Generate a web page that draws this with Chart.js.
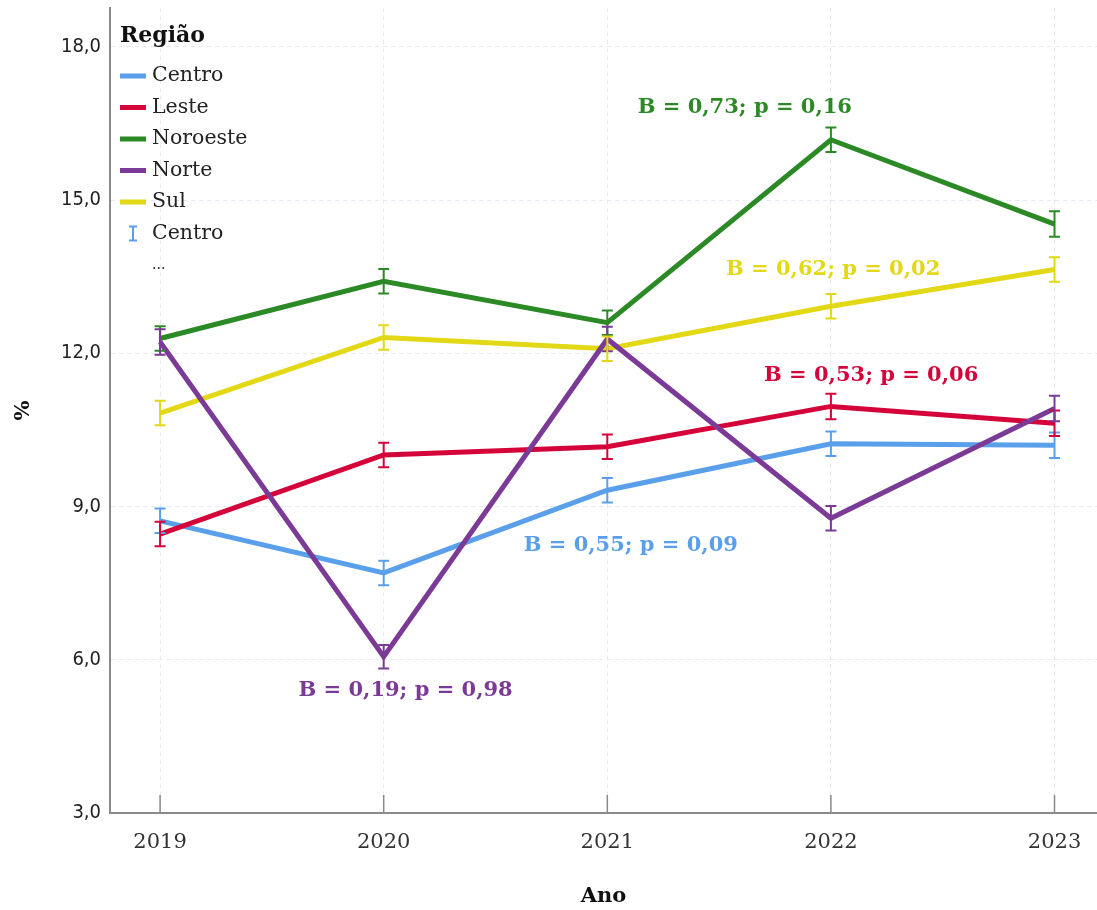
<!DOCTYPE html>
<html>
<head>
<meta charset="utf-8">
<script src="https://cdn.jsdelivr.net/npm/chart.js@4.4.0/dist/chart.umd.min.js"></script>
<style>
    html, body { margin: 0; padding: 0; background: #fff; }
    #wrap { position: relative; width: 1097px; height: 910px; }
</style>
</head>
<body>
<div id="wrap"><canvas id="chart"></canvas></div>
<script>
// Dados (% por região e ano)
const years = [2019, 2020, 2021, 2022, 2023];
const regions = ['Centro', 'Leste', 'Noroeste', 'Norte', 'Sul'];

const centro   = [8.72, 7.70, 9.32, 10.23, 10.20];
const leste    = [8.46, 10.01, 10.17, 10.96, 10.63];
const noroeste = [12.29, 13.41, 12.60, 16.18, 14.53];
const norte    = [12.22, 6.06, 12.28, 8.77, 10.92];
const sul      = [10.83, 12.31, 12.09, 12.92, 13.64];

// Semi-amplitude das barras de erro
const centroErr   = [0.24, 0.24, 0.24, 0.24, 0.25];
const lesteErr    = [0.24, 0.24, 0.24, 0.25, 0.25];
const noroesteErr = [0.24, 0.24, 0.24, 0.24, 0.25];
const norteErr    = [0.25, 0.23, 0.24, 0.24, 0.25];
const sulErr      = [0.24, 0.24, 0.24, 0.24, 0.24];

const yTicks = [3, 6, 9, 12, 15, 18];

const regLabels = [
    'B = 0,55; p = 0,09',
    'B = 0,53; p = 0,06',
    'B = 0,73; p = 0,16',
    'B = 0,19; p = 0,98',
    'B = 0,62; p = 0,02',
];

// posição dos rótulos (em unidades do gráfico)
const labelPos = [
    { x: 2021.105, y: 8.24 },
    { x: 2022.18, y: 11.57 },
    { x: 2021.615, y: 16.82 },
    { x: 2020.098, y: 5.39 },
    { x: 2022.01, y: 13.63 },
];

const colors = ['#5a9fea', '#d4043b', '#2b8a25', '#7a3a96', '#e3d815'];
const series = [centro, leste, noroeste, norte, sul];
const errors = [centroErr, lesteErr, noroesteErr, norteErr, sulErr];
const drawOrder = [4, 3, 5, 1, 2];

const SERIF = '"DejaVu Serif", "Liberation Serif", serif';
const NARROW = '"Liberation Sans Narrow", "DejaVu Sans Condensed", "Liberation Sans", sans-serif';

const datasets = regions.map((name, i) => ({
    label: name,
    data: years.map((yr, j) => ({ x: yr, y: series[i][j] })),
    errors: errors[i],
    borderColor: colors[i],
    backgroundColor: colors[i],
    borderWidth: 5,
    pointRadius: 0,
    tension: 0,
    order: drawOrder[i],
}));

// Barras de erro
const errorBars = {
    id: 'errorBars',
    afterDatasetsDraw(chart) {
        const { ctx, scales: { x, y } } = chart;
        ctx.save();
        ctx.lineWidth = 2;
        chart.data.datasets.forEach((ds) => {
            ctx.strokeStyle = ds.borderColor;
            ds.data.forEach((pt, j) => {
                const px = x.getPixelForValue(pt.x);
                const top = y.getPixelForValue(pt.y + ds.errors[j]);
                const bot = y.getPixelForValue(pt.y - ds.errors[j]);
                ctx.beginPath();
                ctx.moveTo(px, top);
                ctx.lineTo(px, bot);
                ctx.moveTo(px - 5.5, top);
                ctx.lineTo(px + 5.5, top);
                ctx.moveTo(px - 5.5, bot);
                ctx.lineTo(px + 5.5, bot);
                ctx.stroke();
            });
        });
        ctx.restore();
    },
};

// Marcas internas no eixo X + rótulos B/p + legenda
const extras = {
    id: 'extras',
    beforeDatasetsDraw(chart) {
        const { ctx, chartArea, scales: { x } } = chart;
        ctx.save();
        ctx.strokeStyle = '#8a8a8a';
        ctx.lineWidth = 1.5;
        years.forEach((yr) => {
            const px = x.getPixelForValue(yr);
            ctx.beginPath();
            ctx.moveTo(px, chartArea.bottom);
            ctx.lineTo(px, chartArea.bottom - 18);
            ctx.stroke();
        });
        ctx.restore();
    },
    afterDraw(chart) {
        const { ctx, scales: { x, y } } = chart;
        ctx.save();

        // rótulos de regressão
        ctx.font = 'bold 21px ' + SERIF;
        ctx.textAlign = 'center';
        ctx.textBaseline = 'middle';
        regLabels.forEach((txt, i) => {
            ctx.fillStyle = colors[i];
            ctx.fillText(txt, x.getPixelForValue(labelPos[i].x), y.getPixelForValue(labelPos[i].y));
        });

        // legenda
        const lx = 120;
        ctx.textAlign = 'left';
        ctx.fillStyle = '#111';
        ctx.font = 'bold 22px ' + SERIF;
        ctx.fillText('Região', lx, 36);

        ctx.font = '20.5px ' + SERIF;
        let ly = 76;
        chart.data.datasets.forEach((ds) => {
            ctx.strokeStyle = ds.borderColor;
            ctx.lineWidth = 5;
            ctx.beginPath();
            ctx.moveTo(lx, ly);
            ctx.lineTo(lx + 26, ly);
            ctx.stroke();
            ctx.fillStyle = '#222';
            ctx.fillText(ds.label, lx + 32, ly);
            ly += 31.5;
        });

        // item da barra de erro
        ctx.strokeStyle = colors[0];
        ctx.lineWidth = 2;
        ctx.beginPath();
        ctx.moveTo(lx + 13, ly - 7);
        ctx.lineTo(lx + 13, ly + 7);
        ctx.moveTo(lx + 9, ly - 7);
        ctx.lineTo(lx + 17, ly - 7);
        ctx.moveTo(lx + 9, ly + 7);
        ctx.lineTo(lx + 17, ly + 7);
        ctx.stroke();
        ctx.fillStyle = '#222';
        ctx.fillText(regions[0], lx + 32, ly);
        ly += 31.5;
        ctx.font = '14px ' + SERIF;
        ctx.fillText('...', lx + 32, ly);

        ctx.restore();
    },
};

new Chart(document.getElementById('chart'), {
    type: 'line',
    data: { datasets },
    options: {
        responsive: true,
        maintainAspectRatio: false,
        animation: false,
        layout: { padding: { top: 8, right: 0, left: 0, bottom: 0 } },
        plugins: {
            legend: { display: false },
            tooltip: { enabled: false },
        },
        scales: {
            x: {
                type: 'linear',
                min: 2018.776,
                max: 2023.19,
                afterBuildTicks: (scale) => {
                    scale.ticks = years.map((v) => ({ value: v }));
                },
                afterFit: (scale) => {
                    scale.height = 97;
                    scale.paddingRight = 0;
                    scale.paddingLeft = 0;
                },
                ticks: {
                    callback: (v) => String(v),
                    color: '#333',
                    font: { family: SERIF, size: 21 },
                    padding: 17,
                    maxRotation: 0,
                },
                grid: {
                    color: '#e3eaf4',
                    lineWidth: 1,
                    drawTicks: false,
                },
                border: { display: true, color: '#8a8a8a', width: 2, dash: [4, 4] },
                title: {
                    display: true,
                    text: 'Ano',
                    color: '#111',
                    font: { family: SERIF, size: 21, weight: 'bold' },
                    padding: { top: 0, bottom: 1 },
                },
            },
            y: {
                min: 3,
                max: 18.76,
                afterBuildTicks: (scale) => {
                    scale.ticks = yTicks.map((v) => ({ value: v }));
                },
                afterFit: (scale) => {
                    scale.width = 110;
                    scale.paddingTop = 0;
                    scale.paddingBottom = 0;
                },
                ticks: {
                    callback: (v) => v.toFixed(1).replace('.', ','),
                    color: '#222',
                    font: { family: NARROW, size: 20 },
                    padding: 9,
                },
                grid: {
                    color: '#e3eaf4',
                    lineWidth: 1,
                    drawTicks: false,
                },
                border: { display: true, color: '#8a8a8a', width: 2, dash: [4, 4] },
                title: {
                    display: true,
                    text: '%',
                    color: '#111',
                    font: { family: SERIF, size: 21, weight: 'bold' },
                    padding: { top: 11, bottom: 0 },
                },
            },
        },
    },
    plugins: [extras, errorBars],
});
</script>
</body>
</html>
